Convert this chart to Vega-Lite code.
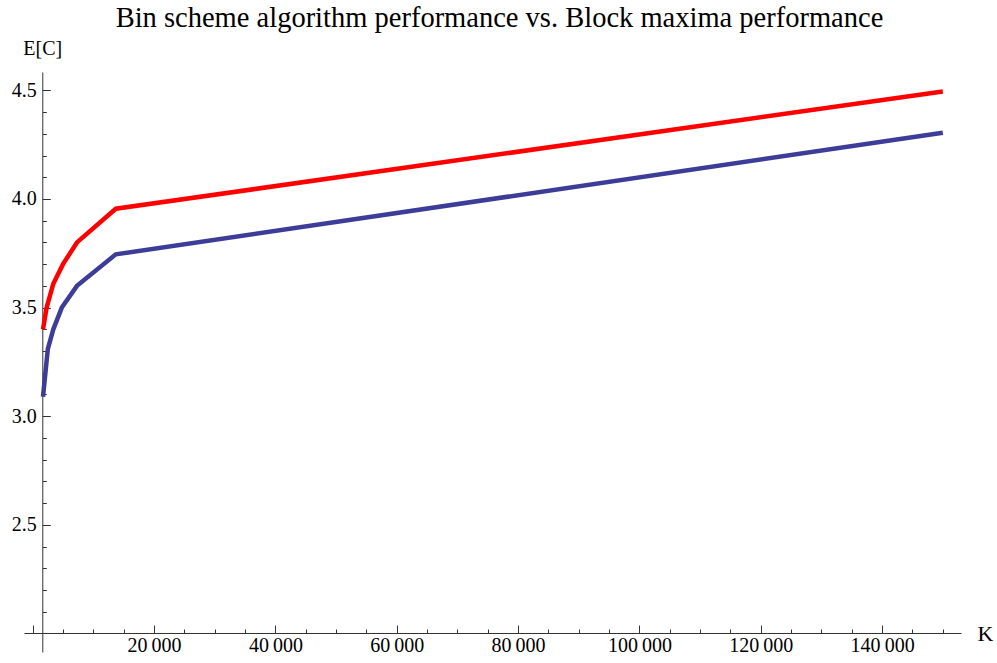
{
  "$schema": "https://vega.github.io/schema/vega-lite/v6.json",
  "width": 937,
  "height": 580,
  "autosize": {"type": "none"},
  "padding": {"left": 24, "top": 72, "right": 36, "bottom": 11},
  "background": "white",
  "title": {
    "text": "Bin scheme algorithm performance vs. Block maxima performance",
    "font": "Liberation Serif",
    "fontSize": 28.5,
    "fontWeight": "normal",
    "color": "#000000",
    "anchor": "middle",
    "frame": "group",
    "dx": 7,
    "offset": 6
  },
  "data": {
    "values": [
      {"K": 1700, "E": 3.40, "series": "Bin scheme"},
      {"K": 2300, "E": 3.50, "series": "Bin scheme"},
      {"K": 3400, "E": 3.61, "series": "Bin scheme"},
      {"K": 5000, "E": 3.70, "series": "Bin scheme"},
      {"K": 7300, "E": 3.80, "series": "Bin scheme"},
      {"K": 13700, "E": 3.955, "series": "Bin scheme"},
      {"K": 150000, "E": 4.495, "series": "Bin scheme"},
      {"K": 1700, "E": 3.09, "series": "Block maxima"},
      {"K": 2500, "E": 3.31, "series": "Block maxima"},
      {"K": 3400, "E": 3.40, "series": "Block maxima"},
      {"K": 4800, "E": 3.50, "series": "Block maxima"},
      {"K": 7300, "E": 3.60, "series": "Block maxima"},
      {"K": 13700, "E": 3.745, "series": "Block maxima"},
      {"K": 150000, "E": 4.305, "series": "Block maxima"}
    ]
  },
  "mark": {"type": "line", "strokeWidth": 4.5, "strokeCap": "butt", "strokeJoin": "miter", "clip": true},
  "encoding": {
    "x": {
      "field": "K",
      "type": "quantitative",
      "scale": {"domain": [-1430, 153000], "nice": false, "zero": false},
      "axis": {
        "title": "K",
        "titleFont": "Liberation Serif",
        "titleFontSize": 22,
        "titleFontWeight": "normal",
        "titleColor": "#000000",
        "titleAngle": 0,
        "titleX": 961,
        "titleY": 0,
        "titleAlign": "center",
        "titleBaseline": "middle",
        "offset": -19,
        "values": [0, 5000, 10000, 15000, 20000, 25000, 30000, 35000, 40000, 45000, 50000, 55000, 60000, 65000, 70000, 75000, 80000, 85000, 90000, 95000, 100000, 105000, 110000, 115000, 120000, 125000, 130000, 135000, 140000, 145000, 150000],
        "labelExpr": "(datum.value % 20000 === 0 && datum.value > 0) ? replace(format(datum.value, ','), ',', '\u2009') : ''",
        "labelFont": "Liberation Serif",
        "labelFontSize": 20,
        "labelColor": "#000000",
        "labelPadding": 10,
        "labelBaseline": "top",
        "labelFlush": false,
        "labelOverlap": false,
        "tickSize": {"condition": {"test": "datum.value % 20000 === 0", "value": -8}, "value": -4},
        "tickColor": "#333333",
        "tickWidth": 1,
        "domainColor": "#333333",
        "domainWidth": 1,
        "grid": false
      }
    },
    "y": {
      "field": "E",
      "type": "quantitative",
      "scale": {"domain": [1.9145, 4.5845], "nice": false, "zero": false},
      "axis": {
        "title": "E[C]",
        "titleFont": "Liberation Serif",
        "titleFontSize": 20,
        "titleFontWeight": "normal",
        "titleColor": "#000000",
        "titleAngle": 0,
        "titleX": 0,
        "titleY": -24,
        "titleAlign": "center",
        "titleBaseline": "middle",
        "offset": -18.3,
        "values": [2.1, 2.2, 2.3, 2.4, 2.5, 2.6, 2.7, 2.8, 2.9, 3.0, 3.1, 3.2, 3.3, 3.4, 3.5, 3.6, 3.7, 3.8, 3.9, 4.0, 4.1, 4.2, 4.3, 4.4, 4.5],
        "labelExpr": "abs(datum.value * 2 - round(datum.value * 2)) < 0.000001 ? format(datum.value, '.1f') : ''",
        "labelFont": "Liberation Serif",
        "labelFontSize": 20,
        "labelColor": "#000000",
        "labelPadding": 14,
        "labelFlush": false,
        "labelOverlap": false,
        "tickSize": {"condition": {"test": "abs(datum.value * 2 - round(datum.value * 2)) < 0.000001", "value": -8}, "value": -4},
        "tickColor": "#333333",
        "tickWidth": 1,
        "domainColor": "#333333",
        "domainWidth": 1,
        "grid": false
      }
    },
    "color": {
      "field": "series",
      "type": "nominal",
      "scale": {"domain": ["Bin scheme", "Block maxima"], "range": ["#ff0000", "#3d3d99"]},
      "legend": null
    }
  },
  "config": {"view": {"stroke": null}}
}
